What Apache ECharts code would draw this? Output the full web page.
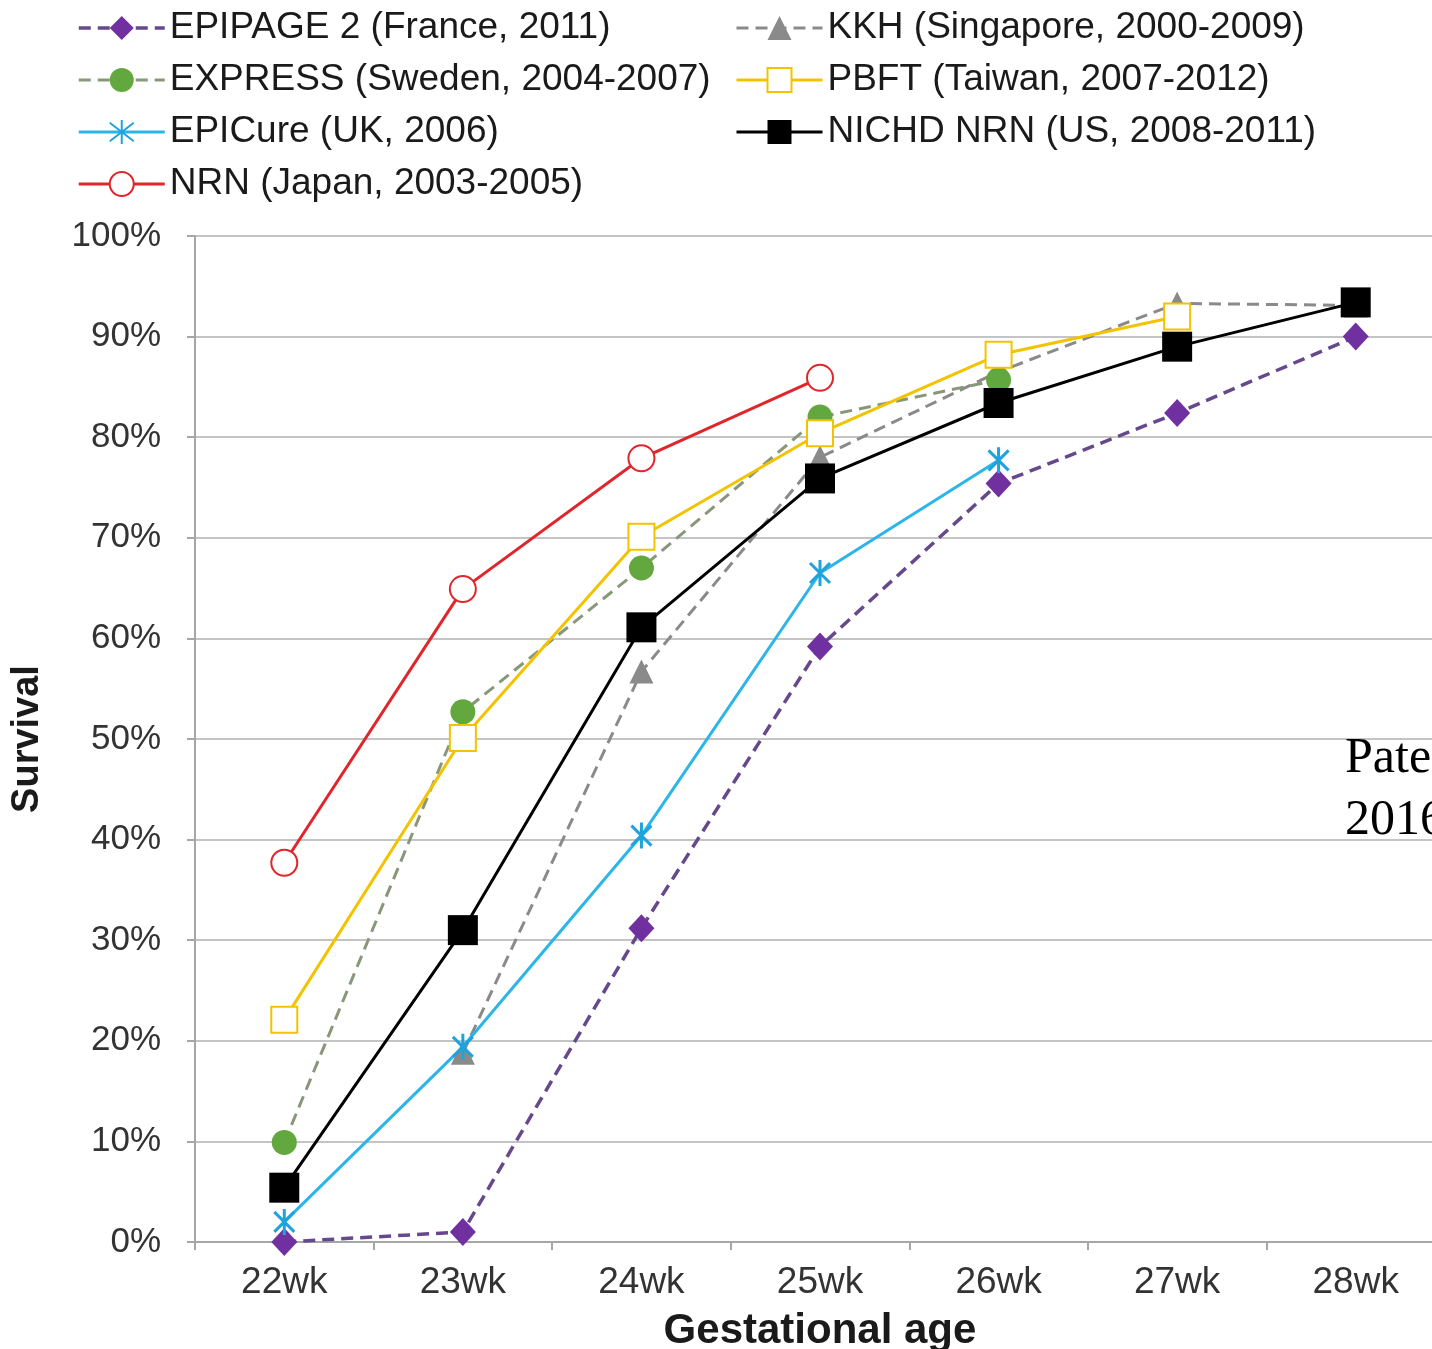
<!DOCTYPE html>
<html>
<head>
<meta charset="utf-8">
<script src="https://cdn.jsdelivr.net/npm/echarts@6/dist/echarts.min.js"></script>
<style>
html,body{margin:0;padding:0;background:#fff;overflow:hidden;}
#chart{width:1460px;height:1349px;}
</style>
</head>
<body>
<div id="chart"></div>
<script>
const categories = ['22wk','23wk','24wk','25wk','26wk','27wk','28wk'];
const epipage = [0, 1.0, 31.2, 59.2, 75.4, 82.4, 90.0];
const kkh = [null, 18.8, 56.7, 78.0, 86.5, 93.3, 93.1];
const express = [9.9, 52.7, 67.0, 82.0, 85.7];
const pbft = [22.1, 50.1, 70.1, 80.4, 88.2, 92.0];
const epicure = [2.0, 19.4, 40.4, 66.5, 77.7];
const nichd = [5.4, 31.0, 61.1, 75.9, 83.4, 89.0, 93.4];
const nrn = [37.7, 64.9, 77.9, 85.9];
const yTicks = [0,10,20,30,40,50,60,70,80,90,100];

const names = {
  epipage: 'EPIPAGE 2 (France, 2011)',
  kkh: 'KKH (Singapore, 2000-2009)',
  express: 'EXPRESS (Sweden, 2004-2007)',
  pbft: 'PBFT (Taiwan, 2007-2012)',
  epicure: 'EPICure (UK, 2006)',
  nichd: 'NICHD NRN (US, 2008-2011)',
  nrn: 'NRN (Japan, 2003-2005)'
};

const FONT = '"Liberation Sans", Arial, sans-serif';
const asterisk = 'path://M0,0L10,10M10,0L0,10M5,-1.5L5,11.5';

const chart = echarts.init(document.getElementById('chart'), null, {renderer:'canvas'});

const legendText = {fontFamily: FONT, fontSize: 37, color: '#1a1a1a', lineHeight: 40};
const legendCommon = {
  orient: 'vertical', top: 3,
  itemWidth: 86, itemHeight: 30, itemGap: 12,
  textStyle: legendText,
  lineStyle: {width: 'inherit'}
};

const option = {
  backgroundColor: '#ffffff',
  animation: false,
  legend: [
    Object.assign({data: [names.epipage, names.express, names.epicure, names.nrn], left: 72}, legendCommon),
    Object.assign({data: [names.kkh, names.pbft, names.nichd], left: 730}, legendCommon)
  ],
  grid: {left: 195, top: 236, width: 1250, height: 1006, outerBoundsMode: 'none', containLabel: false},
  xAxis: {
    type: 'category',
    data: categories,
    boundaryGap: true,
    axisLine: {lineStyle: {color: '#a6a6a6', width: 2}},
    axisTick: {show: true, length: 8, lineStyle: {color: '#a6a6a6', width: 2}},
    axisLabel: {fontFamily: FONT, fontSize: 37, color: '#333', margin: 22},
    name: 'Gestational age',
    nameLocation: 'middle',
    nameGap: 68,
    nameTextStyle: {fontFamily: FONT, fontSize: 42, fontWeight: 'bold', color: '#1a1a1a'}
  },
  yAxis: {
    type: 'value',
    min: 0, max: 100, interval: 10,
    axisLine: {show: true, lineStyle: {color: '#a6a6a6', width: 2}},
    axisTick: {show: true, length: 8, lineStyle: {color: '#a6a6a6', width: 2}},
    splitLine: {lineStyle: {color: '#c4c4c4', width: 2}},
    axisLabel: {
      fontFamily: FONT, fontSize: 35, color: '#333', margin: 34,
      formatter: v => yTicks.includes(v) ? v + '%' : ''
    },
    name: 'Survival',
    nameLocation: 'middle',
    nameGap: 148,
    nameRotate: 90,
    nameTextStyle: {fontFamily: FONT, fontSize: 38, fontWeight: 'bold', color: '#1a1a1a'}
  },
  graphic: [
    {type: 'text', left: 1345, top: 734, z: 100,
     style: {text: 'Patel et al.', font: '50px "Liberation Serif", "Times New Roman", serif', fill: '#000'}},
    {type: 'text', left: 1345, top: 796, z: 100,
     style: {text: '2016', font: '50px "Liberation Serif", "Times New Roman", serif', fill: '#000'}}
  ],
  series: [
    {
      name: names.epipage, type: 'line', data: epipage,
      symbol: 'diamond', symbolSize: [26, 28],
      itemStyle: {color: '#7030a0'},
      lineStyle: {color: '#66488c', width: 3.5, type: [12, 7]}
    },
    {
      name: names.kkh, type: 'line', data: kkh,
      symbol: 'triangle', symbolSize: 24,
      itemStyle: {color: '#8a8a8a'},
      lineStyle: {color: '#8a8a8a', width: 3, type: [12, 7]}
    },
    {
      name: names.express, type: 'line', data: express,
      symbol: 'circle', symbolSize: 25,
      itemStyle: {color: '#62a83e'},
      lineStyle: {color: '#88977a', width: 3, type: [12, 7]}
    },
    {
      name: names.pbft, type: 'line', data: pbft,
      symbol: 'emptyRect', symbolSize: 26,
      itemStyle: {color: '#f3c300', borderColor: '#f3c300', borderWidth: 3},
      lineStyle: {color: '#f3c300', width: 3}
    },
    {
      name: names.epicure, type: 'line', data: epicure,
      symbol: asterisk, symbolSize: 26, symbolKeepAspect: true,
      itemStyle: {color: 'rgba(0,0,0,0)', borderColor: '#1fa3dc', borderWidth: 3},
      lineStyle: {color: '#2bb5e8', width: 3}
    },
    {
      name: names.nichd, type: 'line', data: nichd,
      symbol: 'rect', symbolSize: 30,
      itemStyle: {color: '#000000'},
      lineStyle: {color: '#000000', width: 3}
    },
    {
      name: names.nrn, type: 'line', data: nrn,
      symbol: 'emptyCircle', symbolSize: 26,
      itemStyle: {color: '#e0262b', borderColor: '#e0262b', borderWidth: 2.5},
      lineStyle: {color: '#e0262b', width: 3}
    }
  ]
};
chart.setOption(option);
</script>
</body>
</html>
